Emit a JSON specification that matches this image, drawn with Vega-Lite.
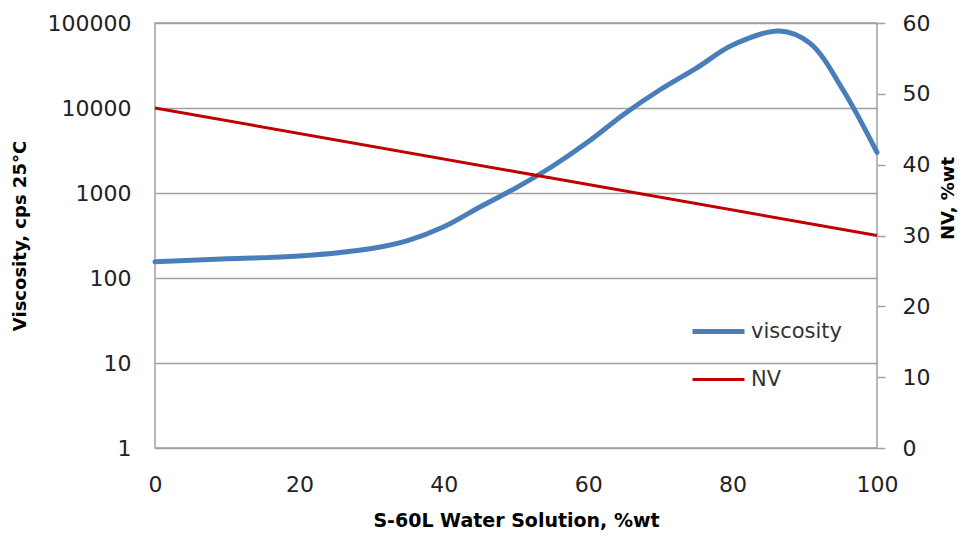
{
  "$schema": "https://vega.github.io/schema/vega-lite/v6.json",
  "width": 722,
  "height": 425,
  "autosize": {"type": "none"},
  "padding": {"left": 155, "top": 23, "right": 92, "bottom": 89},
  "background": "white",
  "config": {
    "font": "DejaVu Sans",
    "view": {"stroke": "#a0a0a0", "strokeWidth": 1.5},
    "axis": {"labelFont": "DejaVu Sans", "titleFont": "DejaVu Sans", "labelColor": "#222", "titleColor": "#000"}
  },
  "datasets": {
    "viscosity": [
      {"pct": 0, "series": "viscosity", "value": 155},
      {"pct": 10, "series": "viscosity", "value": 168},
      {"pct": 20, "series": "viscosity", "value": 181},
      {"pct": 30, "series": "viscosity", "value": 222},
      {"pct": 35, "series": "viscosity", "value": 275},
      {"pct": 40, "series": "viscosity", "value": 400},
      {"pct": 45, "series": "viscosity", "value": 684},
      {"pct": 50, "series": "viscosity", "value": 1150},
      {"pct": 55, "series": "viscosity", "value": 2050},
      {"pct": 60, "series": "viscosity", "value": 4000},
      {"pct": 65, "series": "viscosity", "value": 8500},
      {"pct": 70, "series": "viscosity", "value": 16500},
      {"pct": 75, "series": "viscosity", "value": 29500},
      {"pct": 80, "series": "viscosity", "value": 55000},
      {"pct": 86.5, "series": "viscosity", "value": 80500},
      {"pct": 90.7, "series": "viscosity", "value": 58000},
      {"pct": 95.3, "series": "viscosity", "value": 16300},
      {"pct": 100, "series": "viscosity", "value": 3000}
    ],
    "nv": [
      {"pct": 0, "series": "NV", "value": 48},
      {"pct": 50, "series": "NV", "value": 39},
      {"pct": 100, "series": "NV", "value": 30}
    ]
  },
  "encoding": {
    "x": {
      "field": "pct",
      "type": "quantitative",
      "scale": {"domain": [0, 100], "nice": false},
      "axis": {
        "title": "S-60L Water Solution, %wt",
        "values": [0, 20, 40, 60, 80, 100],
        "grid": false,
        "ticks": false,
        "domain": false,
        "labelFontSize": 22,
        "labelPadding": 26,
        "titleFontSize": 19,
        "titleFontWeight": "bold",
        "titlePadding": 16,
        "labelFlush": false
      }
    }
  },
  "layer": [
    {
      "data": {"name": "viscosity"},
      "mark": {"type": "line", "interpolate": "catmull-rom", "strokeCap": "round"},
      "encoding": {
        "y": {
          "field": "value",
          "type": "quantitative",
          "scale": {"type": "log", "domain": [1, 100000], "nice": false},
          "axis": {
            "title": "Viscosity, cps 25°C",
            "orient": "left",
            "values": [1, 10, 100, 1000, 10000, 100000],
            "format": "d",
            "grid": true,
            "gridColor": "#a0a0a0",
            "gridWidth": 1.5,
            "ticks": false,
            "domain": false,
            "labelFontSize": 22,
            "labelPadding": 24,
            "titleFontSize": 18,
            "titleFontWeight": "bold",
            "titlePadding": 18
          }
        },
        "color": {
          "field": "series",
          "type": "nominal",
          "scale": {"domain": ["viscosity", "NV"], "range": ["#4a7ebb", "#c00000"]},
          "legend": {
            "title": null,
            "orient": "none",
            "legendX": 535,
            "legendY": 280,
            "symbolType": "stroke",
            "symbolSize": 2700,
            "symbolStrokeWidth": 4,
            "labelFontSize": 21,
            "labelColor": "#333",
            "labelOffset": 4,
            "rowPadding": 10
          }
        },
        "strokeWidth": {
          "field": "series",
          "type": "nominal",
          "scale": {"domain": ["viscosity", "NV"], "range": [5, 3]},
          "legend": null
        }
      }
    },
    {
      "data": {"name": "nv"},
      "mark": {"type": "line"},
      "encoding": {
        "y": {
          "field": "value",
          "type": "quantitative",
          "scale": {"domain": [0, 60], "nice": false},
          "axis": {
            "title": "NV, %wt",
            "orient": "right",
            "values": [0, 10, 20, 30, 40, 50, 60],
            "grid": false,
            "ticks": true,
            "tickSize": 8,
            "tickColor": "#a0a0a0",
            "tickWidth": 1.5,
            "domain": false,
            "labelFontSize": 22,
            "labelPadding": 17,
            "titleFontSize": 18,
            "titleFontWeight": "bold",
            "titleAngle": 270,
            "titlePadding": 28,
            "titleY": 175
          }
        },
        "color": {"field": "series", "type": "nominal"},
        "strokeWidth": {"field": "series", "type": "nominal", "legend": null}
      }
    }
  ],
  "resolve": {"scale": {"y": "independent"}}
}
